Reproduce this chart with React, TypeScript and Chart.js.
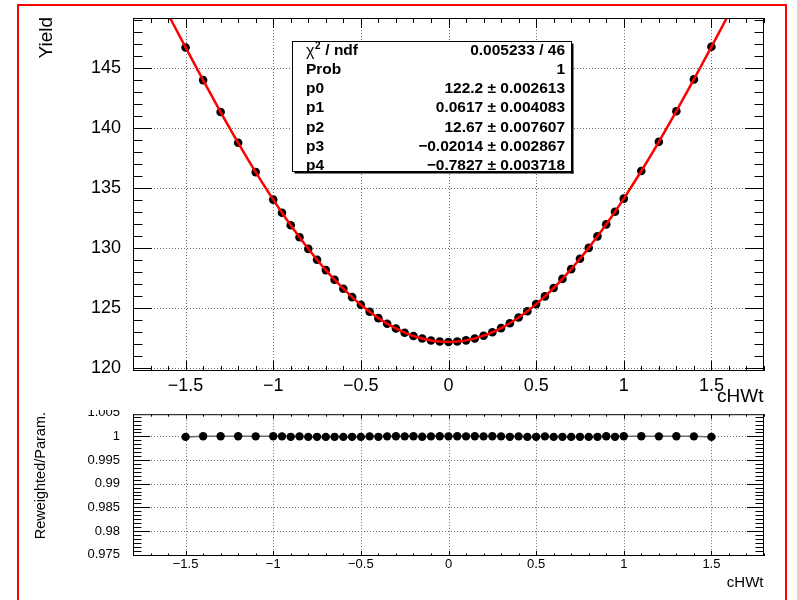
import React, { useEffect, useRef } from "react";
import { Chart, registerables } from "chart.js";

Chart.register(...registerables);

// ---------------- data ----------------
const X_VALUES = [
  -1.5, -1.4, -1.3, -1.2, -1.1, -1.0, -0.95, -0.9, -0.85, -0.8, -0.75, -0.7, -0.65, -0.6, -0.55, -0.5,
  -0.45, -0.4, -0.35, -0.3, -0.25, -0.2, -0.15, -0.1, -0.05, 0, 0.05, 0.1, 0.15, 0.2, 0.25, 0.3, 0.35,
  0.4, 0.45, 0.5, 0.55, 0.6, 0.65, 0.7, 0.75, 0.8, 0.85, 0.9, 0.95, 1.0, 1.1, 1.2, 1.3, 1.4, 1.5,
];
const YIELD = [
  146.72, 144.0, 141.34, 138.78, 136.34, 134.05, 132.96, 131.91, 130.91, 129.95, 129.04, 128.18, 127.38,
  126.63, 125.93, 125.29, 124.71, 124.18, 123.72, 123.32, 122.97, 122.69, 122.48, 122.32, 122.23, 122.2,
  122.23, 122.33, 122.49, 122.72, 123.0, 123.35, 123.76, 124.23, 124.76, 125.35, 125.99, 126.69, 127.45,
  128.26, 129.12, 130.03, 130.99, 131.99, 133.04, 134.13, 136.43, 138.86, 141.41, 144.06, 146.77,
];
// fit curve continues beyond the outermost points (clipped by the frame)
const FIT_LEFT = { x: -1.6, y: 149.49 };
const FIT_RIGHT = { x: 1.6, y: 149.52 };

const RATIO = [
  0.9999, 1.00002, 1.00002, 1.00002, 1.00001, 1.00002, 1.00001, 0.99991, 1.00001, 0.9999, 0.99991, 0.9999,
  0.99991, 0.9999, 0.99991, 0.9999, 1.00001, 0.99991, 1.00001, 1.00002, 1.00001, 1.00002, 0.99992, 1.00001,
  1.00002, 1.00001, 1.00002, 1.00001, 1.00002, 1.00001, 1.00002, 1.00001, 0.99991, 1.00001, 0.9999, 0.99991,
  1.00001, 0.9999, 0.99991, 0.9999, 0.99991, 0.9999, 0.99991, 1.00002, 0.99991, 1.00002, 1.00002, 1.00001,
  1.00002, 1.00001, 0.9999,
];

const X_TICKS = [-1.5, -1, -0.5, 0, 0.5, 1, 1.5];
const Y_TICKS_TOP = [120, 125, 130, 135, 140, 145];
const Y_TICKS_BOTTOM = [0.975, 0.98, 0.985, 0.99, 0.995, 1, 1.005];

const STAT_LABELS = ["chi2", "Prob", "p0", "p1", "p2", "p3", "p4"];
const STAT_VALUES = [
  "0.005233 / 46",
  "1",
  "122.2 \u00b1 0.002613",
  "0.0617 \u00b1 0.004083",
  "12.67 \u00b1 0.007607",
  "\u22120.02014 \u00b1 0.002867",
  "\u22120.7827 \u00b1 0.003718",
];

const X_TITLE = "cHWt";
const Y_TITLE_TOP = "Yield";
const Y_TITLE_BOTTOM = "Reweighted/Param.";

// ---------------- helpers ----------------
const FONT = "'Liberation Sans', Arial, Helvetica, sans-serif";

function fmt(v: number): string {
  const s = String(Math.round(v * 100000) / 100000);
  return s.replace("-", "\u2212");
}

type AxisCfg = {
  xMinor: number;
  yMinor: number;
  xMajorLen: number;
  xMinorLen: number;
  yMajorLen: number;
  yMinorLen: number;
  xTitleFont: string;
  xTitleY: number;
  yTitle: string;
  yTitleFont: string;
  yTitleX: number;
  yTitleTop: number;
  statBox: boolean;
};

function minorValues(min: number, max: number, step: number): number[] {
  const out: number[] = [];
  const k0 = Math.ceil(min / step - 1e-9);
  const k1 = Math.floor(max / step + 1e-9);
  for (let k = k0; k <= k1; k++) out.push(k * step);
  return out;
}

function makeRootPlugin(cfg: AxisCfg) {
  return {
    id: "rootAxes",
    beforeDatasetsDraw(chart: any) {
      const { ctx, chartArea: a, scales } = chart;
      const xs = scales.x;
      const ys = scales.y;
      ctx.save();
      ctx.strokeStyle = "#6a6a6a";
      ctx.lineWidth = 1;
      ctx.setLineDash([1, 2]);
      for (const t of xs.ticks) {
        const px = Math.round(xs.getPixelForValue(t.value)) + 0.5;
        if (px < a.left + 1 || px > a.right - 1) continue;
        ctx.beginPath();
        ctx.moveTo(px, a.top);
        ctx.lineTo(px, a.bottom);
        ctx.stroke();
      }
      for (const t of ys.ticks) {
        const py = Math.round(ys.getPixelForValue(t.value)) + 0.5;
        if (py < a.top + 2 || py > a.bottom - 1) continue;
        ctx.beginPath();
        ctx.moveTo(a.left, py);
        ctx.lineTo(a.right, py);
        ctx.stroke();
      }
      ctx.restore();
    },
    afterDatasetsDraw(chart: any) {
      const { ctx, chartArea: a, scales } = chart;
      const xs = scales.x;
      const ys = scales.y;
      ctx.save();
      ctx.setLineDash([]);
      ctx.strokeStyle = "#000";
      ctx.lineWidth = 1;
      // frame
      ctx.strokeRect(a.left + 0.5, a.top + 0.5, a.right - a.left - 1, a.bottom - a.top - 1);

      const xMajors = xs.ticks.map((t: any) => t.value);
      const yMajors = ys.ticks.map((t: any) => t.value);
      const isMajor = (arr: number[], v: number) => arr.some((m) => Math.abs(m - v) < 1e-7);

      ctx.beginPath();
      for (const v of minorValues(xs.min, xs.max, cfg.xMinor)) {
        const len = isMajor(xMajors, v) ? cfg.xMajorLen : cfg.xMinorLen;
        const px = Math.round(xs.getPixelForValue(v)) + 0.5;
        ctx.moveTo(px, a.bottom);
        ctx.lineTo(px, a.bottom - len);
        ctx.moveTo(px, a.top);
        ctx.lineTo(px, a.top + len);
      }
      for (const v of minorValues(ys.min, ys.max, cfg.yMinor)) {
        const len = isMajor(yMajors, v) ? cfg.yMajorLen : cfg.yMinorLen;
        const py = Math.round(ys.getPixelForValue(v)) + 0.5;
        ctx.moveTo(a.left, py);
        ctx.lineTo(a.left + len, py);
        ctx.moveTo(a.right, py);
        ctx.lineTo(a.right - len, py);
      }
      ctx.stroke();

      // axis titles
      ctx.fillStyle = "#000";
      ctx.font = cfg.xTitleFont;
      ctx.textAlign = "right";
      ctx.textBaseline = "alphabetic";
      ctx.fillText(X_TITLE, a.right - 0.5, cfg.xTitleY);

      ctx.save();
      ctx.translate(cfg.yTitleX, cfg.yTitleTop);
      ctx.rotate(-Math.PI / 2);
      ctx.font = cfg.yTitleFont;
      ctx.textAlign = "right";
      ctx.textBaseline = "alphabetic";
      ctx.fillText(cfg.yTitle, 0, 0);
      ctx.restore();

      if (cfg.statBox) {
        const bx = 292.5;
        const by = 41.5;
        const bw = 279;
        const bh = 130;
        ctx.fillStyle = "#fff";
        ctx.fillRect(bx, by, bw, bh);
        ctx.fillStyle = "#000";
        ctx.fillRect(bx + 2, by + bh, bw, 2);
        ctx.fillRect(bx + bw, by + 2, 2, bh);
        ctx.strokeRect(bx, by, bw, bh);

        const rows = [50.7, 70, 89, 108, 127.7, 146.5, 165.5];
        const lx = 306;
        const rx = 565;
        ctx.textBaseline = "middle";
        for (let i = 0; i < STAT_LABELS.length; i++) {
          const y = rows[i];
          ctx.textAlign = "left";
          if (STAT_LABELS[i] === "chi2") {
            ctx.font = `16px ${FONT}`;
            ctx.fillText("\u03c7", lx, y + 1);
            const w1 = ctx.measureText("\u03c7").width;
            ctx.font = `bold 10px ${FONT}`;
            ctx.fillText("2", lx + w1 + 0.5, y - 4);
            const w2 = ctx.measureText("2").width;
            ctx.font = `bold 15.5px ${FONT}`;
            ctx.fillText(" / ndf", lx + w1 + w2 + 1, y);
          } else {
            ctx.font = `bold 15.5px ${FONT}`;
            ctx.fillText(STAT_LABELS[i], lx, y);
          }
          ctx.font = `bold 15.5px ${FONT}`;
          ctx.textAlign = "right";
          ctx.fillText(STAT_VALUES[i], rx, y);
        }
      }
      ctx.restore();
    },
  };
}

function fixedScales(
  xHeight: number,
  yWidth: number,
  xMin: number,
  xMax: number,
  yMin: number,
  yMax: number,
  yTicks: number[],
  xFont: number,
  yFont: number,
  xPad: number,
  yPad: number
): any {
  return {
    x: {
      type: "linear",
      min: xMin,
      max: xMax,
      grid: { display: false },
      border: { display: false },
      afterBuildTicks: (s: any) => {
        s.ticks = X_TICKS.map((v) => ({ value: v }));
      },
      afterFit: (s: any) => {
        s.height = xHeight;
        s.paddingLeft = 0;
        s.paddingRight = 0;
        s.paddingTop = 0;
        s.paddingBottom = 0;
      },
      ticks: {
        autoSkip: false,
        maxRotation: 0,
        minRotation: 0,
        padding: xPad,
        color: "#000",
        font: { family: FONT, size: xFont },
        callback: (v: any) => fmt(Number(v)),
      },
    },
    y: {
      type: "linear",
      min: yMin,
      max: yMax,
      grid: { display: false },
      border: { display: false },
      afterBuildTicks: (s: any) => {
        s.ticks = yTicks.map((v) => ({ value: v }));
      },
      afterFit: (s: any) => {
        s.width = yWidth;
        s.paddingLeft = 0;
        s.paddingRight = 0;
        s.paddingTop = 0;
        s.paddingBottom = 0;
      },
      ticks: {
        autoSkip: false,
        padding: yPad,
        color: "#000",
        font: { family: FONT, size: yFont },
        callback: (v: any) => fmt(Number(v)),
      },
    },
  };
}

export default function App() {
  const topRef = useRef<HTMLCanvasElement>(null);
  const botRef = useRef<HTMLCanvasElement>(null);

  useEffect(() => {
    const points = X_VALUES.map((x, i) => ({ x, y: YIELD[i] }));
    const fitData = [FIT_LEFT, ...points, FIT_RIGHT];
    const ratioPts = X_VALUES.map((x, i) => ({ x, y: RATIO[i] }));

    const top = new Chart(topRef.current as HTMLCanvasElement, {
      type: "scatter",
      data: {
        datasets: [
          {
            type: "line",
            data: fitData,
            borderColor: "#ff0000",
            borderWidth: 2.5,
            pointRadius: 0,
            cubicInterpolationMode: "monotone",
            fill: false,
            clip: 0,
          } as any,
          {
            data: points,
            backgroundColor: "#000",
            borderColor: "#000",
            pointRadius: 4.3,
            pointBorderWidth: 0,
            showLine: false,
          },
        ],
      },
      options: {
        responsive: false,
        animation: false,
        devicePixelRatio: 1,
        events: [],
        layout: { padding: { left: 0, right: 33, top: 18, bottom: 0 } },
        plugins: { legend: { display: false }, tooltip: { enabled: false } },
        scales: fixedScales(39, 133, -1.8, 1.8, 119.78, 149.17, Y_TICKS_TOP, 18, 18, -4, 4),
      } as any,
      plugins: [
        makeRootPlugin({
          xMinor: 0.1,
          yMinor: 1,
          xMajorLen: 10,
          xMinorLen: 5,
          yMajorLen: 19,
          yMinorLen: 9.5,
          xTitleFont: `19px ${FONT}`,
          xTitleY: 401.5,
          yTitle: Y_TITLE_TOP,
          yTitleFont: `19px ${FONT}`,
          yTitleX: 51.5,
          yTitleTop: 17,
          statBox: true,
        }),
      ],
    });

    const bottom = new Chart(botRef.current as HTMLCanvasElement, {
      type: "scatter",
      data: {
        datasets: [
          {
            data: ratioPts,
            showLine: true,
            borderColor: "#6a6a6a",
            borderWidth: 1.5,
            backgroundColor: "#000",
            pointBackgroundColor: "#000",
            pointBorderColor: "#000",
            pointRadius: 4.2,
            pointBorderWidth: 0,
            tension: 0,
            clip: 0,
          } as any,
        ],
      },
      options: {
        responsive: false,
        animation: false,
        devicePixelRatio: 1,
        events: [],
        layout: { padding: { left: 0, right: 33, top: 3, bottom: 0 } },
        plugins: { legend: { display: false }, tooltip: { enabled: false } },
        scales: fixedScales(44, 133, -1.8, 1.8, 0.9747, 1.0047, Y_TICKS_BOTTOM, 13, 13, -7, 5),
      } as any,
      plugins: [
        makeRootPlugin({
          xMinor: 0.1,
          yMinor: 0.005 / 6,
          xMajorLen: 5,
          xMinorLen: 2.5,
          yMajorLen: 17,
          yMinorLen: 8.5,
          xTitleFont: `15px ${FONT}`,
          xTitleY: 177,
          yTitle: Y_TITLE_BOTTOM,
          yTitleFont: `14.5px ${FONT}`,
          yTitleX: 44.5,
          yTitleTop: 2,
          statBox: false,
        }),
      ],
    });

    return () => {
      top.destroy();
      bottom.destroy();
    };
  }, []);

  return (
    <div
      style={{
        position: "absolute",
        left: 0,
        top: 0,
        width: 797,
        height: 600,
        overflow: "hidden",
        background: "#fff",
      }}
    >
      <canvas
        ref={topRef}
        width={797}
        height={410}
        style={{ position: "absolute", left: 0, top: 0, width: 797, height: 410 }}
      />
      <canvas
        ref={botRef}
        width={797}
        height={190}
        style={{ position: "absolute", left: 0, top: 410, width: 797, height: 190 }}
      />
      <div
        style={{
          position: "absolute",
          left: 17,
          top: 4,
          width: 770,
          height: 700,
          border: "2px solid #ff0000",
          boxSizing: "border-box",
          pointerEvents: "none",
        }}
      />
    </div>
  );
}
